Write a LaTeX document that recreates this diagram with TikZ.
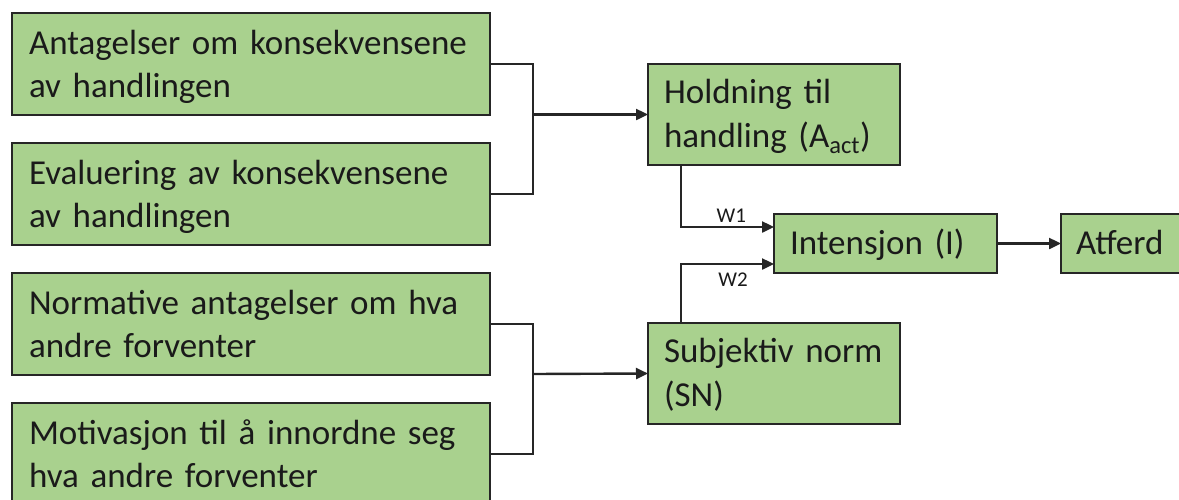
\documentclass[tikz,border=0pt]{standalone}
\usepackage{fontspec}
\setmainfont{Carlito}
\usetikzlibrary{arrows.meta,calc}
\definecolor{boxgreen}{HTML}{A9D18E}
\definecolor{edgegray}{HTML}{262626}
\definecolor{inktext}{HTML}{1A1A1A}
% invisible rule fixing line height (#1) and depth (#2) of a box's text
\newcommand\linestrut[2]{\rule[-#2]{0pt}{\dimexpr#1+#2\relax}}
\begin{document}
\begin{tikzpicture}[x=1pt,y=-1pt,
  >={Triangle[length=12pt,width=11pt]},
  box/.style={draw=edgegray, fill=boxgreen, line width=2.4pt, anchor=north west,
    inner ysep=0pt, outer sep=0pt, align=left, text=inktext},
  widebox/.style={minimum width=478pt, minimum height=102pt, inner xsep=17pt, text width=444pt,
    font=\fontsize{35}{43}\selectfont,
    execute at begin node={\linestrut{31pt}{8pt}}, execute at end node={\linestrut{31pt}{8pt}}},
  midbox/.style={minimum width=252pt, minimum height=101pt, inner xsep=16pt, text width=220pt,
    font=\fontsize{35}{44}\selectfont,
    execute at begin node={\linestrut{30pt}{9pt}}, execute at end node={\linestrut{30pt}{9pt}}},
  smallbox/.style={minimum height=59pt, inner xsep=16pt,
    font=\fontsize{35}{43}\selectfont,
    execute at begin node={\linestrut{28pt}{7pt}}},
  wire/.style={draw=edgegray, line width=2.4pt},
  wlabel/.style={font=\fontsize{21}{25}\selectfont, text=inktext}
]
\useasboundingbox (0,0) rectangle (1179,499);

% input beliefs
\node[box,widebox] (a1) at (12,13)  {Antagelser om konsekvensene\\av handlingen};
\node[box,widebox] (a2) at (12,143) {Evaluering av konsekvensene\\av handlingen};
\node[box,widebox] (n1) at (12,273) {Normative antagelser om hva\\andre forventer};
\node[box,widebox] (n2) at (12,403) {Motivasjon til å innordne seg\\hva andre forventer};

% constructs
\node[box,midbox] (att) at (648,64)  {Holdning til\\handling (A\textsubscript{act})};
\node[box,midbox] (sn)  at (648,323) {Subjektiv norm\\(SN)};
\node[box,smallbox,minimum width=223pt,text width=191pt] (int) at (774,214) {Intensjon (I)};
\node[box,smallbox,minimum width=140pt,inner xsep=15pt,text width=110pt] (atf) at (1061,214) {Atferd};

% brackets joining the belief pairs
\coordinate (jA) at (533,114.5);
\coordinate (jN) at (533,374);
\draw[wire] (a1.east) -| (jA) |- (a2.east);
\draw[wire,->] (jA) -- (att.west);
\draw[wire] (n1.east) -| (jN) |- (n2.east);
\draw[wire,->] (jN) -- (sn.west);

% weighted paths into the intention
\draw[wire,->] ($(att.south west)+(33,0)$) |- ($(int.west)+(0,-16.5)$)
  node[wlabel,pos=0.77,above=0pt] {W1};
\draw[wire,->] ($(sn.north west)+(33,0)$) |- ($(int.west)+(0,20.5)$)
  node[wlabel,pos=0.78,below=4pt] {W2};
\draw[wire,->] (int.east) -- (atf.west);
\end{tikzpicture}
\end{document}
